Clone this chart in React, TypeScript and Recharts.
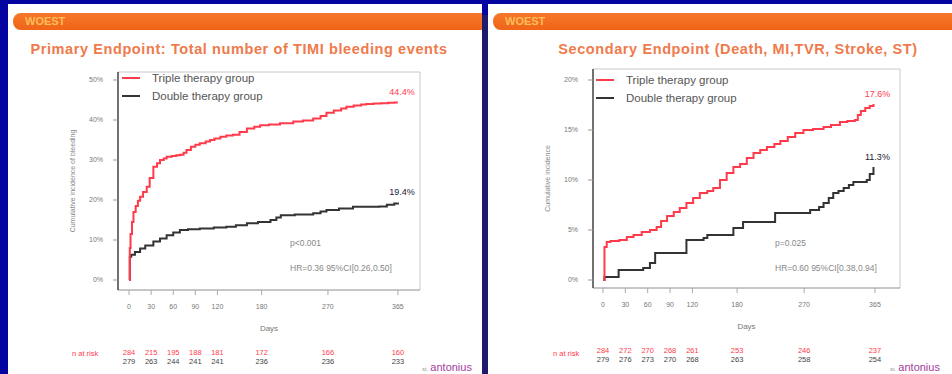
import { LineChart, Line, XAxis, YAxis, ReferenceArea, LabelList } from "recharts";

const DAY_TICKS = [0, 30, 60, 90, 120, 180, 270, 365];

// Primary endpoint: total TIMI bleeding events
const bleedTripleDays = [0, 1, 2, 4, 6, 9, 12, 15, 19, 24, 28, 33, 38, 42, 47, 51, 58, 64, 69, 74, 78, 84, 90, 96, 104, 110, 116, 124, 132, 141, 150, 160, 170, 178, 190, 205, 223, 236, 250, 260, 268, 278, 288, 295, 305, 315, 322, 332, 342, 352, 360, 365];
const bleedTriplePct = [0, 8.0, 11.5, 14.5, 17.0, 18.5, 19.8, 20.8, 22.0, 23.3, 25.5, 28.3, 29.2, 30.0, 30.4, 30.8, 31.0, 31.2, 31.3, 31.8, 32.5, 33.3, 33.8, 34.2, 34.6, 35.0, 35.4, 35.8, 36.1, 36.3, 37.0, 37.9, 38.3, 38.7, 38.9, 39.2, 39.6, 39.9, 40.4, 41.0, 41.8, 42.4, 42.9, 43.3, 43.6, 43.9, 44.0, 44.1, 44.2, 44.3, 44.4, 44.4];
const bleedDoubleDays = [0, 1, 3, 8, 15, 22, 33, 42, 51, 60, 69, 80, 96, 115, 132, 145, 160, 175, 192, 200, 206, 225, 250, 260, 268, 285, 304, 340, 350, 360, 365];
const bleedDoublePct = [0, 5.8, 6.3, 7.0, 7.9, 8.6, 9.6, 10.4, 11.2, 11.9, 12.5, 12.7, 12.9, 13.1, 13.3, 13.7, 14.2, 14.5, 15.0, 15.6, 16.2, 16.4, 16.7, 17.1, 17.5, 17.9, 18.3, 18.4, 18.8, 19.1, 19.4];
const bleedRiskTriple = [284, 215, 195, 188, 181, 172, 166, 160];
const bleedRiskDouble = [279, 263, 244, 241, 241, 236, 236, 233];
const bleedYTicks = [0, 10, 20, 30, 40, 50];

// Secondary endpoint: death, MI, TVR, stroke, stent thrombosis
const mainTripleDays = [0, 2, 5, 10, 22, 32, 41, 52, 63, 72, 78, 86, 95, 103, 112, 121, 130, 140, 148, 157, 166, 175, 184, 193, 202, 211, 220, 230, 238, 248, 258, 269, 282, 296, 306, 318, 328, 338, 342, 346, 352, 358, 363];
const mainTriplePct = [0, 3.3, 3.8, 3.9, 4.0, 4.3, 4.5, 4.8, 5.0, 5.3, 5.9, 6.4, 6.8, 7.2, 7.7, 8.2, 8.7, 8.9, 9.2, 10.0, 10.7, 11.3, 11.6, 12.2, 12.7, 13.0, 13.3, 13.6, 13.9, 14.3, 14.7, 15.0, 15.1, 15.3, 15.5, 15.8, 15.9, 16.0, 16.5, 16.9, 17.2, 17.4, 17.6];
const mainDoubleDays = [0, 2, 16, 21, 54, 63, 70, 106, 112, 135, 140, 171, 175, 188, 224, 231, 269, 278, 290, 296, 303, 309, 316, 323, 330, 336, 354, 358, 363];
const mainDoublePct = [0, 0.3, 0.3, 1.0, 1.2, 1.7, 2.7, 2.7, 4.0, 4.2, 4.5, 4.5, 5.2, 5.8, 5.8, 6.7, 6.7, 7.0, 7.3, 7.7, 8.2, 8.7, 8.9, 9.2, 9.5, 9.8, 10.0, 10.6, 11.3];
const mainRiskTriple = [284, 272, 270, 268, 261, 253, 246, 237];
const mainRiskDouble = [279, 276, 273, 270, 268, 263, 258, 254];
const mainYTicks = [0, 5, 10, 15, 20];

const RED = "#ff3b4b";
const DARK = "#333";
const FONT = "'Liberation Sans', Arial, sans-serif";

type Pt = { day: number; pct: number };

function toPoints(days: number[], pct: number[]): Pt[] {
  return days.map((day, i) => ({ day, pct: pct[i] }));
}

// value label above the last point of a curve
const endLabel = (color: string, last: number) => (props: any) => {
  if (props.index !== last) return null;
  return (
    <text x={props.x + 4} y={props.y - 7} fill={color} fontSize={9} textAnchor="middle" fontFamily={FONT}>
      {`${Number(props.value).toFixed(1)}%`}
    </text>
  );
};

interface KmChartProps {
  left: number;
  top: number;
  width: number;
  height: number;
  margin: { top: number; right: number; bottom: number; left: number };
  xDomain: [number, number];
  yDomain: [number, number];
  yTicks: number[];
  yLabel: string;
  triple: Pt[];
  double: Pt[];
  riskTriple: number[];
  riskDouble: number[];
}

function KmChart(p: KmChartProps) {
  const riskFmt = (rows: number[]) => (v: number) => String(rows[DAY_TICKS.indexOf(v)] ?? "");
  return (
    <div style={{ position: "absolute", left: p.left, top: p.top }}>
      <LineChart width={p.width} height={p.height} margin={p.margin}>
        <XAxis
          xAxisId="a"
          type="number"
          dataKey="day"
          domain={p.xDomain}
          allowDataOverflow
          ticks={DAY_TICKS}
          interval={0}
          height={60}
          tickSize={5}
          tickMargin={9}
          stroke="#aaa"
          tick={{ fontSize: 7, fill: "#777", fontFamily: FONT }}
          label={{ value: "Days", position: "insideBottom", offset: 19, fontSize: 8, fill: "#777", fontFamily: FONT }}
        />
        <XAxis
          xAxisId="b"
          type="number"
          dataKey="day"
          domain={p.xDomain}
          allowDataOverflow
          ticks={DAY_TICKS}
          interval={0}
          height={9}
          axisLine={false}
          tickLine={false}
          tickSize={0}
          tickMargin={0}
          tick={{ fontSize: 7.5, fill: RED, fontFamily: FONT }}
          tickFormatter={riskFmt(p.riskTriple)}
        />
        <XAxis
          xAxisId="c"
          type="number"
          dataKey="day"
          domain={p.xDomain}
          allowDataOverflow
          ticks={DAY_TICKS}
          interval={0}
          height={9}
          axisLine={false}
          tickLine={false}
          tickSize={0}
          tickMargin={0}
          tick={{ fontSize: 7.5, fill: "#444", fontFamily: FONT }}
          tickFormatter={riskFmt(p.riskDouble)}
        />
        <YAxis
          type="number"
          domain={p.yDomain}
          allowDataOverflow
          ticks={p.yTicks}
          interval={0}
          width={50}
          tickSize={5}
          tickMargin={10}
          tickFormatter={(v: number) => `${v}%`}
          tick={{ fontSize: 7, fill: "#777", fontFamily: FONT }}
          axisLine={{ stroke: "#333", strokeWidth: 1.3 }}
          tickLine={{ stroke: "#999" }}
          label={{
            value: p.yLabel,
            angle: -90,
            position: "insideLeft",
            offset: 5,
            fontSize: 7,
            fill: "#888",
            fontFamily: FONT,
            style: { textAnchor: "middle" },
          }}
        />
        <ReferenceArea
          xAxisId="a"
          x1={p.xDomain[0]}
          x2={p.xDomain[1]}
          y1={p.yDomain[0]}
          y2={p.yDomain[1]}
          fill="none"
          stroke="#c8c8c8"
          ifOverflow="visible"
        />
        <Line xAxisId="a" data={p.double} dataKey="pct" type="stepAfter" stroke={DARK} strokeWidth={2} dot={false} isAnimationActive={false}>
          <LabelList dataKey="pct" content={endLabel("#223", p.double.length - 1)} />
        </Line>
        <Line xAxisId="a" data={p.triple} dataKey="pct" type="stepAfter" stroke={RED} strokeWidth={2} dot={false} isAnimationActive={false}>
          <LabelList dataKey="pct" content={endLabel(RED, p.triple.length - 1)} />
        </Line>
      </LineChart>
    </div>
  );
}

function LegendBox({ left, top }: { left: number; top: number }) {
  const row = (color: string, text: string) => (
    <div style={{ display: "flex", alignItems: "center", height: 18 }}>
      <div style={{ width: 18, height: 2, background: color, marginRight: 12 }} />
      <span style={{ fontSize: 11.5, color: "#555" }}>{text}</span>
    </div>
  );
  return (
    <div style={{ position: "absolute", left, top, fontFamily: FONT }}>
      {row(RED, "Triple therapy group")}
      {row(DARK, "Double therapy group")}
    </div>
  );
}

function Note({ left, top, text }: { left: number; top: number; text: string }) {
  return (
    <div style={{ position: "absolute", left, top, fontSize: 8.5, color: "#888", fontFamily: FONT, whiteSpace: "nowrap" }}>
      {text}
    </div>
  );
}

function Header({ title, titleCenter }: { title: string; titleCenter: number }) {
  return (
    <>
      <div
        style={{
          position: "absolute",
          left: 5,
          top: 9,
          right: 0,
          height: 17,
          background: "linear-gradient(#f7782a, #ef6418)",
          borderRadius: "8px 0 0 8px",
        }}
      >
        <span style={{ position: "absolute", left: 12, top: 2, fontSize: 11, fontWeight: "bold", color: "#fdbd5c", fontFamily: FONT }}>
          WOEST
        </span>
      </div>
      <div
        style={{
          position: "absolute",
          left: titleCenter - 250,
          width: 500,
          top: 37,
          textAlign: "center",
          fontSize: 14.5,
          letterSpacing: 0.6,
          fontWeight: "bold",
          color: "#ef7a4c",
          fontFamily: FONT,
          whiteSpace: "nowrap",
        }}
      >
        {title}
      </div>
    </>
  );
}

function Logo({ left }: { left: number }) {
  return (
    <div style={{ position: "absolute", left, top: 353, fontFamily: FONT, whiteSpace: "nowrap" }}>
      <span style={{ fontSize: 6, color: "#999", marginRight: 2 }}>st.</span>
      <span style={{ fontSize: 11, color: "#a43c9e" }}>antonius</span>
    </div>
  );
}

function RiskLabel({ left }: { left: number }) {
  return (
    <div style={{ position: "absolute", left, top: 345, fontSize: 7.5, color: RED, fontFamily: FONT }}>n at risk</div>
  );
}

export default function App() {
  return (
    <div
      style={{
        position: "fixed",
        left: 0,
        top: 0,
        width: 952,
        height: 374,
        background: "#0404a0",
        overflow: "hidden",
      }}
    >
      <div style={{ position: "absolute", left: 8, top: 4, width: 474, height: 370, background: "#fff", overflow: "hidden" }}>
        <Header title="Primary Endpoint: Total number of TIMI bleeding events" titleCenter={231} />
        <KmChart
          left={52}
          top={56}
          width={380}
          height={310}
          margin={{ top: 12, right: 20, bottom: 2, left: 8 }}
          xDomain={[-15, 395]}
          yDomain={[-2.5, 52]}
          yTicks={bleedYTicks}
          yLabel="Cumulative incidence of bleeding"
          triple={toPoints(bleedTripleDays, bleedTriplePct)}
          double={toPoints(bleedDoubleDays, bleedDoublePct)}
          riskTriple={bleedRiskTriple}
          riskDouble={bleedRiskDouble}
        />
        <LegendBox left={114} top={65} />
        <Note left={282} top={234} text="p<0.001" />
        <Note left={282} top={259} text="HR=0.36  95%CI[0.26,0.50]" />
        <RiskLabel left={64} />
        <Logo left={414} />
      </div>
      <div style={{ position: "absolute", left: 482, top: 0, width: 6, height: 15, background: "#0404a0" }} />
      <div style={{ position: "absolute", left: 482, top: 15, width: 6, height: 359, background: "#1e1b6c" }} />
      <div style={{ position: "absolute", left: 488, top: 4, width: 464, height: 370, background: "#fff", overflow: "hidden" }}>
        <Header title="Secondary Endpoint (Death, MI,TVR, Stroke, ST)" titleCenter={250} />
        <KmChart
          left={52}
          top={53}
          width={380}
          height={311}
          margin={{ top: 12, right: 20, bottom: 2, left: 3 }}
          xDomain={[-13.4, 398.6]}
          yDomain={[-0.8, 21.1]}
          yTicks={mainYTicks}
          yLabel="Cumulative incidence"
          triple={toPoints(mainTripleDays, mainTriplePct)}
          double={toPoints(mainDoubleDays, mainDoublePct)}
          riskTriple={mainRiskTriple}
          riskDouble={mainRiskDouble}
        />
        <LegendBox left={108} top={67} />
        <Note left={287} top={234} text="p=0.025" />
        <Note left={287} top={259} text="HR=0.60  95%CI[0.38,0.94]" />
        <RiskLabel left={65} />
        <Logo left={402} />
      </div>
    </div>
  );
}
